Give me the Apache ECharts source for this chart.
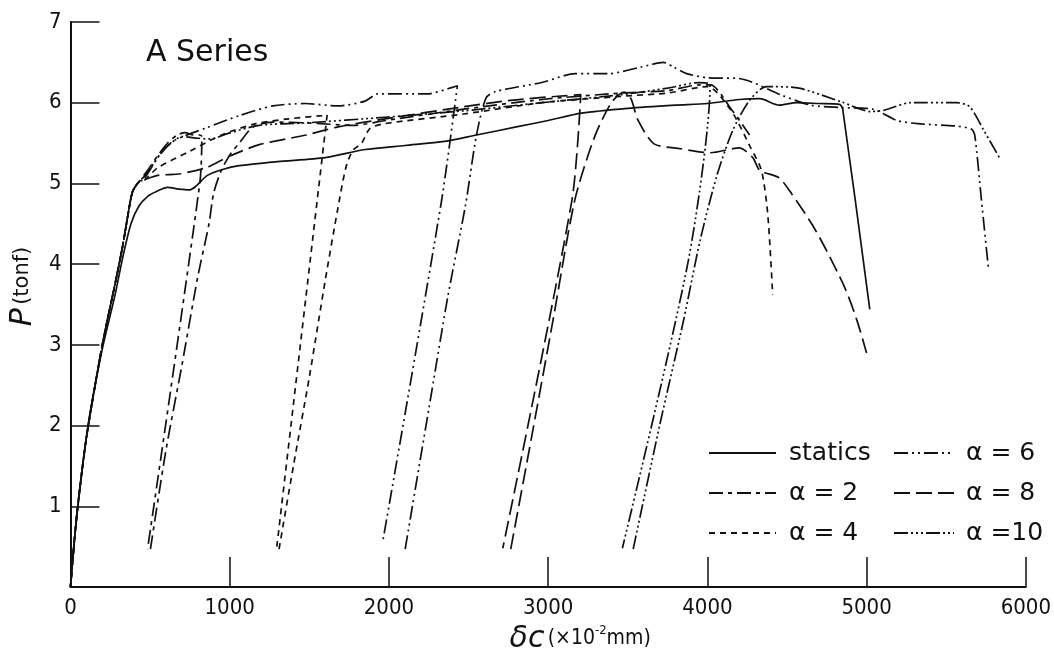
<!DOCTYPE html>
<html><head><meta charset="utf-8">
<script src="https://cdn.jsdelivr.net/npm/echarts@6/dist/echarts.min.js"></script>
<style>html,body{margin:0;padding:0;background:#fff}#c{width:1054px;height:659px}</style>
</head><body><div id="c"></div>
<script>
// ---- data (x in 10^-2 mm, P in tonf) ----
const xTicks = [0, 1000, 2000, 3000, 4000, 5000, 6000];
const yTicks = [1, 2, 3, 4, 5, 6, 7];
const seriesNames = ['statics', 'α = 2', 'α = 4', 'α = 6', 'α = 8', 'α =10'];

const initLoad = [[0,0],[40,0.9],[100,1.85],[200,3.0],[290,3.85],[330,4.25],[360,4.6],[390,4.9],[430,5.02]];

const statics = [[0,0],[30,0.7],[110,2.0],[200,2.95],[280,3.62],[330,4.1],[380,4.5],[430,4.72],[485,4.84],[540,4.9],[610,4.95],[680,4.93],[750,4.92],[790,4.97],[860,5.1],[950,5.17],[1060,5.22],[1300,5.27],[1600,5.32],[1850,5.42],[2100,5.47],[2350,5.52],[2550,5.6],[2800,5.7],[3000,5.78],[3210,5.87],[3500,5.93],[3800,5.97],[4000,5.99],[4200,6.04],[4330,6.05],[4450,5.97],[4560,6.0],[4700,5.99],[4830,5.98],[4850,5.92],[5020,3.44]];

const a2 = [[480,5.15],[550,5.35],[610,5.5],[670,5.6],[720,5.63],[770,5.6],[810,5.6],[825,5.58],[812,5.0],[484,0.47],[490,null],
  [502,0.47],[600,1.7],[700,2.75],[800,3.85],[870,4.5],[899,4.88],[949,5.17],[1010,5.38],[1060,5.5],[1147,5.7],[1271,5.76],[1480,5.75],[1780,5.72],[1980,5.78],[2470,5.92],[2960,6.04],[3460,6.12],[3750,6.15],[3950,6.22],[4020,6.22],[4150,5.92],[4265,5.6]];

const a4 = [[470,5.05],[545,5.19],[750,5.4],[960,5.61],[1165,5.74],[1370,5.8],[1580,5.84],[1612,5.85],[1296,0.5],[1303,null],
  [1310,0.47],[1400,1.5],[1500,2.6],[1600,3.8],[1680,4.7],[1730,5.2],[1773,5.41],[1829,5.5],[1880,5.68],[1970,5.74],[2470,5.86],[2960,6.0],[3460,6.08],[3750,6.12],[4000,6.2],[4150,5.9],[4270,5.45],[4340,5.16],[4380,4.6],[4410,3.62]];

const a6 = [[460,5.05],[565,5.37],[650,5.53],[855,5.69],[1060,5.84],[1270,5.96],[1475,5.99],[1680,5.96],[1850,6.02],[1930,6.11],[2240,6.11],[2400,6.19],[2430,6.21],[2330,4.78],[1960,0.55],[2030,null],
  [2102,0.47],[2250,2.2],[2370,3.6],[2480,4.72],[2550,5.6],[2610,6.06],[2672,6.14],[2960,6.25],[3170,6.36],[3380,6.36],[3580,6.44],[3725,6.5],[3790,6.44],[3870,6.36],[4000,6.31],[4200,6.3],[4470,6.09],[4650,5.97],[4840,5.94],[5040,5.92],[5190,5.78],[5320,5.74],[5570,5.71],[5660,5.67],[5680,5.59],[5720,4.82],[5765,3.95]];

const a8 = [[470,5.05],[550,5.1],[690,5.12],[860,5.2],[990,5.33],[1185,5.48],[1480,5.6],[1680,5.7],[1975,5.8],[2470,5.95],[2765,6.03],[3060,6.08],[3205,6.1],[3150,4.8],[2715,0.48],[2740,null],
  [2765,0.47],[2900,1.9],[3030,3.3],[3168,4.8],[3292,5.58],[3397,6.0],[3478,6.13],[3520,6.05],[3565,5.78],[3665,5.49],[3830,5.43],[4020,5.38],[4200,5.44],[4285,5.32],[4330,5.16],[4450,5.07],[4530,4.87],[4655,4.5],[4740,4.2],[4865,3.7],[4940,3.3],[5000,2.9]];

const a10 = [[470,5.1],[560,5.35],[620,5.48],[700,5.58],[800,5.56],[880,5.55],[990,5.62],[1185,5.72],[1480,5.75],[1975,5.82],[2470,5.9],[2960,6.0],[3460,6.1],[3750,6.18],[3950,6.25],[4017,6.22],[3881,4.05],[3466,0.48],[3500,null],
  [3534,0.47],[3700,2.0],[3850,3.3],[3955,4.3],[4060,5.1],[4160,5.66],[4265,6.03],[4371,6.2],[4575,6.18],[4842,6.01],[5028,5.89],[5115,5.91],[5276,6.0],[5567,6.0],[5648,5.95],[5735,5.66],[5834,5.32]];

const dashes = {
  'statics': 'solid',
  'α = 2': [14,5,4,5],
  'α = 4': [6,5],
  'α = 6': [14,4,2,4,2,4],
  'α = 8': [16,6],
  'α =10': [14,3,2,3,2,3,2,3]
};
const seriesData = {
  'statics': statics,
  'α = 2': initLoad.concat(a2),
  'α = 4': initLoad.concat(a4),
  'α = 6': initLoad.concat(a6),
  'α = 8': initLoad.concat(a8),
  'α =10': initLoad.concat(a10)
};

const ink = '#111';
const font = 'DejaVu Sans';
const legendBase = {orient: 'vertical', top: 434, itemHeight: 14, itemGap: 12, selectedMode: false,
  itemStyle: {opacity: 0, borderWidth: 0}};
const chart = echarts.init(document.getElementById('c'), null, {renderer: 'canvas'});
chart.setOption({
  animation: false,
  backgroundColor: '#fff',
  title: {text: 'A Series', left: 141, top: 33, textStyle: {fontFamily: font, fontSize: 30, fontWeight: 'normal', color: ink}},
  grid: {left: 62, right: 24, top: 22, bottom: 72},
  legend: [
    Object.assign({}, legendBase, {data: ['statics', 'α = 2', 'α = 4'], left: 703, itemWidth: 67,
     textStyle: {fontFamily: font, fontSize: 25, color: ink, lineHeight: 28, padding: [0,0,0,8]}}),
    Object.assign({}, legendBase, {data: ['α = 6', 'α = 8', 'α =10'], left: 888, itemWidth: 60,
     textStyle: {fontFamily: font, fontSize: 25, color: ink, lineHeight: 28, padding: [0,0,0,7]}})
  ],
  xAxis: {
    type: 'value', min: 0, max: 6000, interval: 1000,
    name: '{d|δc} {u|(×10}{s|-2}{u|mm)}', nameLocation: 'middle', nameGap: 34,
    nameTextStyle: {padding: [0,0,0,64], rich: {
      d: {fontFamily: font, fontSize: 30, fontStyle: 'italic', color: ink},
      u: {fontFamily: 'DejaVu Sans Condensed', fontSize: 21, color: ink},
      s: {fontFamily: 'DejaVu Sans Condensed', fontSize: 13, color: ink, verticalAlign: 'top', padding: [0,0,12,0]}
    }},
    axisLine: {lineStyle: {color: ink, width: 2}},
    axisTick: {inside: true, length: 30, lineStyle: {color: ink, width: 1.5}},
    axisLabel: {fontFamily: 'DejaVu Sans Condensed', fontSize: 22, color: ink, margin: 10,
      formatter: v => (xTicks.indexOf(v) >= 0 ? String(v) : '')},
    splitLine: {show: false}
  },
  yAxis: {
    type: 'value', min: 0, max: 7, interval: 1,
    name: '{p|P} {u|(tonf)}', nameLocation: 'middle', nameGap: 30,
    nameTextStyle: {padding: [0,0,0,36], rich: {
      p: {fontFamily: font, fontSize: 30, fontStyle: 'italic', color: ink},
      u: {fontFamily: font, fontSize: 21, color: ink}
    }},
    axisLine: {show: true, lineStyle: {color: ink, width: 2}},
    axisTick: {show: true, inside: true, length: 29, lineStyle: {color: ink, width: 1.5}},
    axisLabel: {fontFamily: 'DejaVu Sans Condensed', fontSize: 22, color: ink, margin: 9,
      formatter: v => (yTicks.indexOf(v) >= 0 ? String(v) : '')},
    splitLine: {show: false}
  },
  series: seriesNames.map(n => ({
    name: n, type: 'line', data: seriesData[n], symbol: 'none', smooth: 0.25, connectNulls: false,
    lineStyle: {color: ink, width: 1.7, type: dashes[n]},
    itemStyle: {color: ink}
  }))
});
</script></body></html>
